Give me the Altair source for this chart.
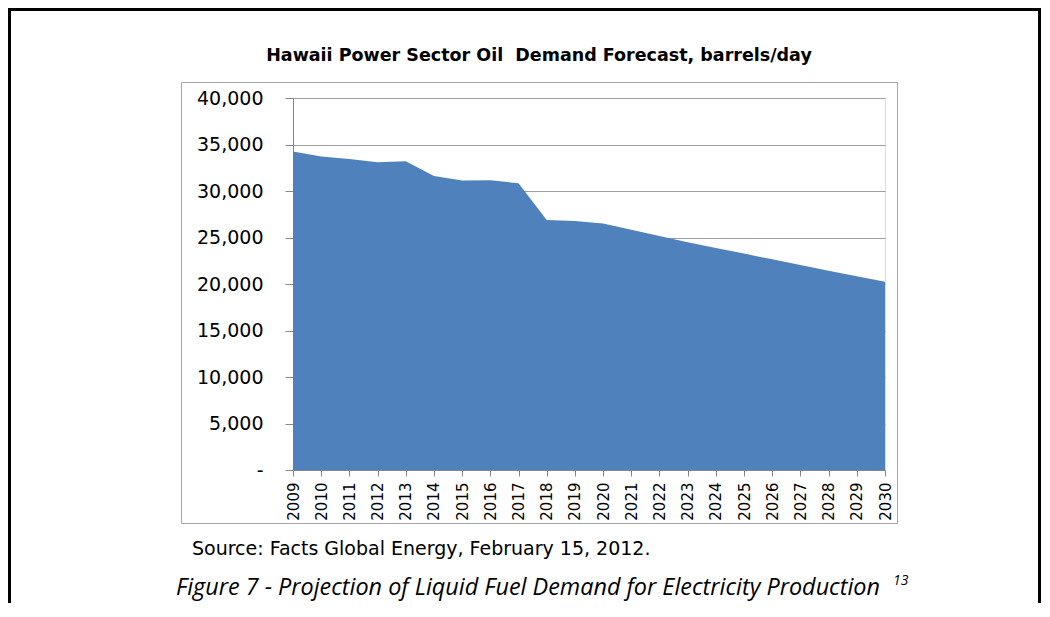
import altair as alt
import pandas as pd

years = list(range(2009, 2031))
demand = [34250, 33700, 33450, 33100, 33200, 31620, 31130, 31160, 30830, 26870,
          26780, 26500, 25820, 25150, 24500, 23880, 23270, 22650, 22040, 21430,
          20830, 20250]
y_ticks = [0, 5000, 10000, 15000, 20000, 25000, 30000, 35000, 40000]

chart_title = "Hawaii Power Sector Oil\u00a0 Demand Forecast, barrels/day"
source_text = "Source: Facts Global Energy, February 15, 2012."
caption_text = "Figure 7 - Projection of Liquid Fuel Demand for Electricity Production"
footnote_text = "13"

W, H = 592, 372
PAD = {"left": 285, "top": 90, "right": 156, "bottom": 133}

df = pd.DataFrame({"year": years, "demand": demand})

area = alt.Chart(df).mark_area(color="#4F81BD", opacity=1).encode(
    x=alt.X("year:Q",
            scale=alt.Scale(domain=[2009, 2030], nice=False, zero=False),
            axis=alt.Axis(values=years, format="d", title=None, labelAngle=270,
                          grid=False, tickSize=6, labelPadding=6,
                          labelFont="DejaVu Sans", labelFontSize=15,
                          labelColor="#000", domainColor="#868686",
                          tickColor="#868686", labelOverlap=False)),
    y=alt.Y("demand:Q",
            scale=alt.Scale(domain=[0, 40000], nice=False),
            axis=alt.Axis(values=y_ticks, title=None, tickSize=8, labelPadding=22,
                          labelExpr="datum.value == 0 ? '-\u00a0\u00a0' : format(datum.value, ',')",
                          labelFont="DejaVu Sans", labelFontSize=19,
                          labelColor="#000", domainColor="#868686",
                          tickColor="#868686", gridColor="#9e9e9e",
                          labelOverlap=False)),
)

def text_layer(txt, x, y, size, align="center", weight="normal", style="normal",
               font="DejaVu Sans", baseline="middle"):
    return alt.Chart(pd.DataFrame({"t": [txt]})).mark_text(
        align=align, baseline=baseline, fontSize=size, fontWeight=weight,
        fontStyle=style, font=font, color="#000"
    ).encode(x=alt.value(x), y=alt.value(y), text="t:N")

title = text_layer(chart_title, 246, -42, 17.5, weight="bold")
source = text_layer(source_text, -101, 457, 19, align="left", baseline="alphabetic")
caption = text_layer(caption_text, -117, 497, 23.4, align="left", style="italic",
                     font="Open Sans", baseline="alphabetic")
footnote = text_layer(footnote_text, 600, 487, 14, align="left", style="italic",
                      font="Open Sans", baseline="alphabetic")

box_df = pd.DataFrame({"k": [0]})
inner_box = alt.Chart(box_df).mark_rect(fillOpacity=0, stroke="#a6a6a6",
                                        strokeWidth=1).encode(
    x=alt.value(-111.5), x2=alt.value(604.5), y=alt.value(-15.5), y2=alt.value(425.5)
)

right_edge = W + PAD["right"]
bottom_edge = H + PAD["bottom"]
frame_left = alt.Chart(box_df).mark_rule(color="#000", strokeWidth=3).encode(
    x=alt.value(-PAD["left"] + 1.5), y=alt.value(-PAD["top"]), y2=alt.value(bottom_edge))
frame_top = alt.Chart(box_df).mark_rule(color="#000", strokeWidth=3).encode(
    y=alt.value(-PAD["top"] + 1.5), x=alt.value(-PAD["left"]), x2=alt.value(right_edge))
frame_right = alt.Chart(box_df).mark_rule(color="#000", strokeWidth=3).encode(
    x=alt.value(right_edge - 1.5), y=alt.value(-PAD["top"]), y2=alt.value(bottom_edge))

chart = alt.layer(
    inner_box, area, title, source, caption, footnote,
    frame_left, frame_top, frame_right
).properties(
    width=W, height=H,
    autosize=alt.AutoSizeParams(type="none"),
    padding=PAD,
).configure_view(stroke=None).configure(background="white")

chart.save("out.html", embed_options={"renderer": "svg", "actions": False})
